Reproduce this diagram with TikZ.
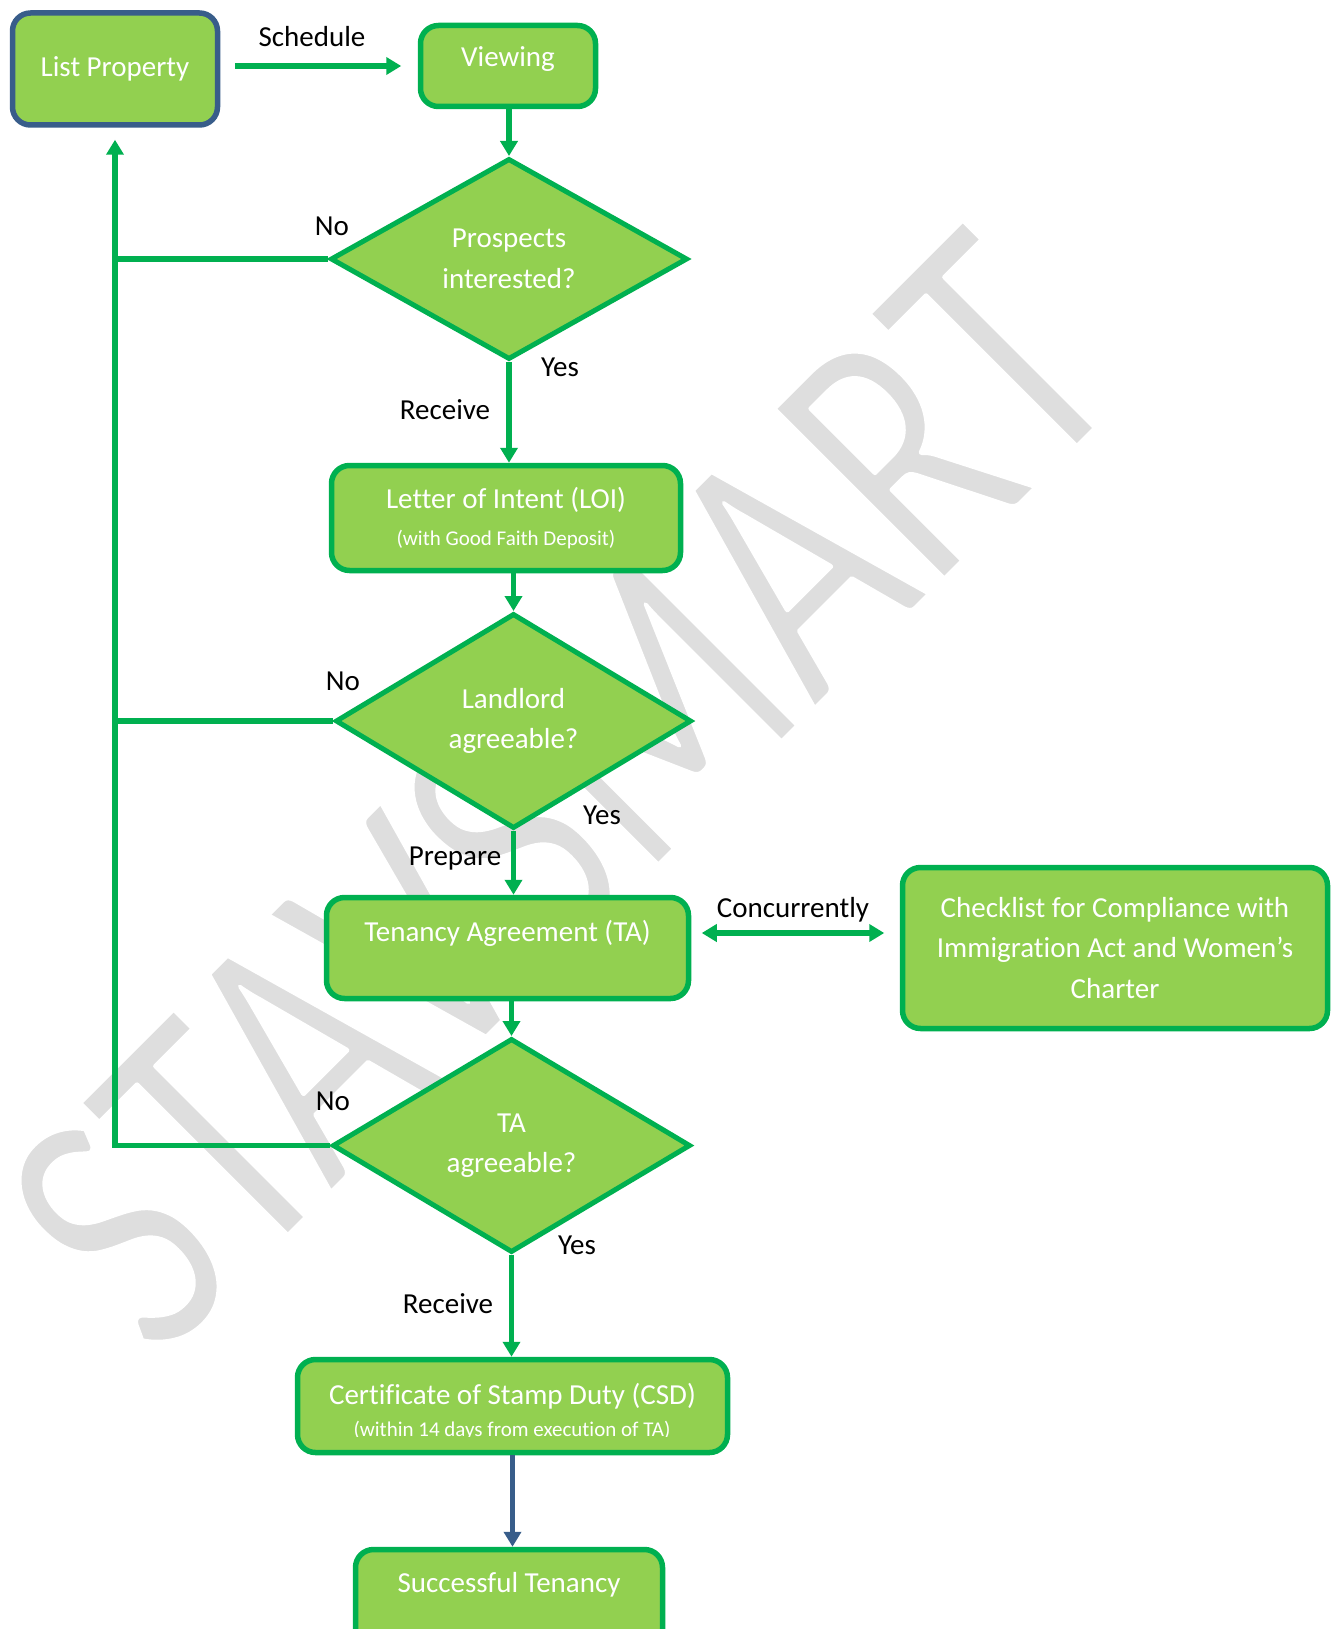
\documentclass[tikz,border=0pt]{standalone}
\usepackage{fontspec}
\usepackage{graphicx}
\setmainfont{Carlito}[Ligatures=NoCommon]
\usetikzlibrary{arrows.meta,shapes.geometric,calc}
\definecolor{gfill}{HTML}{92D050}
\definecolor{gline}{HTML}{00B050}
\definecolor{bline}{HTML}{385D8A}
\definecolor{wmgray}{HTML}{DEDEDE}
\newcommand{\mainfs}{\fontsize{29}{40.5}\selectfont}
\newcommand{\smallfs}{\fontsize{21}{26}\selectfont}
\newcommand{\wmfs}{\fontsize{376}{400}\selectfont}
\begin{document}
\begin{tikzpicture}[x=1pt,y=-1pt,
  box/.style={draw=gline, fill=gfill, line width=5.5pt, rounded corners=18pt, text=white, font=\mainfs, align=center, inner sep=0pt},
  dec/.style={diamond, draw=gline, fill=gfill, line width=5pt, text=white, font=\mainfs, align=center, inner sep=0pt},
  conn/.style={draw=gline, line width=5.5pt},
  arr/.style={conn, -{Triangle[length=15pt,width=17pt]}},
  dblarr/.style={conn, {Triangle[length=15pt,width=17pt]}-{Triangle[length=15pt,width=17pt]}},
  lbl/.style={font=\mainfs, text=black, anchor=base, inner sep=0pt},
]
\useasboundingbox (0,0) rectangle (1339,1629);
\clip (0,0) rectangle (1339,1629);
\fill[white] (0,0) rectangle (1339,1629);

% watermark
\node[rotate=45, inner sep=0pt, text=wmgray, font=\wmfs] (wm) at (561,792) {\special{pdf:literal direct 1 G 5 w 1 j 2 Tr}\scalebox{0.755}[1]{STAVSMART}\special{pdf:literal direct 0 Tr}};

% boxes
\node[box, draw=bline, minimum width=205pt, minimum height=112pt] (lp) at (115,69) {List Property};
\node[box, minimum width=175pt, minimum height=81pt, text height=20pt, text depth=18pt] (view) at (508,66) {Viewing};
\node[dec, minimum width=357pt, minimum height=201pt] (d1) at (509,259) {Prospects\\interested?};
\node[box, minimum width=349pt, minimum height=105pt, font=\fontsize{29}{37}\selectfont] (loi) at (506,518) {Letter of Intent (LOI)\\{\smallfs (with Good Faith Deposit)}};
\node[dec, minimum width=356pt, minimum height=215pt] (d2) at (513.5,721) {Landlord\\agreeable?};
\node[box, minimum width=362pt, minimum height=101pt, text height=20pt, text depth=34pt] (ta) at (507.5,948) {Tenancy Agreement (TA)};
\node[box, minimum width=425pt, minimum height=161pt] (chk) at (1115,948) {Checklist for Compliance with\\Immigration Act and Women’s\\Charter};
\node[dec, minimum width=358pt, minimum height=214pt] (d3) at (511.5,1145.5) {TA\\agreeable?};
\node[box, minimum width=430pt, minimum height=93pt, text height=20pt, text depth=24pt] (csd) at (512.5,1406) {Certificate of Stamp Duty (CSD)};
\begin{scope}
\clip (280,1300) rectangle (750,1436.5);
\node[font=\smallfs, text=white, anchor=base, inner sep=0pt] (csdsub) at (512,1436) {(within 14 days from execution of TA)};
\end{scope}
\node[box, minimum width=307pt, minimum height=101pt, text height=20pt, text depth=36pt] (succ) at (509,1600) {Successful Tenancy};

% connectors
\draw[arr, shorten <=14.5pt, shorten >=16.5pt] (lp.east |- view.west) -- (view.west);
\draw[arr] (d1.north |- view.south) -- (d1.north);
\draw[arr] (d1.south) -- (d1.south |- loi.north);
\draw[arr] (d2.north |- loi.south) -- (d2.north);
\draw[arr] (d2.south) -- (d2.south |- ta.north);
\draw[arr] (d3.north |- ta.south) -- (d3.north);
\draw[arr] (d3.south) -- (d3.south |- csd.north);
\draw[arr, draw=bline] (csd.south) -- (csd.south |- succ.north);
\coordinate (cc) at (0,933);
\draw[dblarr, shorten <=10.5pt, shorten >=15.5pt] (ta.east |- cc) -- (chk.west |- cc);
\draw[arr, shorten >=12pt] (d3.west) -| (lp.south);
\draw[conn] (d1.west) -- (d1.west -| lp.south);
\draw[conn] (d2.west) -- (d2.west -| lp.south);

% labels
\node[lbl] (lsched) at (312,47) {Schedule};
\node[lbl] (lno1) at (332,236) {No};
\node[lbl] (lyes1) at (560,376) {Yes};
\node[lbl] (lrec1) at (445,419) {Receive};
\node[lbl] (lno2) at (343,690) {No};
\node[lbl] (lyes2) at (602,824) {Yes};
\node[lbl] (lprep) at (455,865) {Prepare};
\node[lbl] (lconc) at (793,917) {Concurrently};
\node[lbl] (lno3) at (333,1110) {No};
\node[lbl] (lyes3) at (577,1254) {Yes};
\node[lbl] (lrec2) at (448,1313) {Receive};
\end{tikzpicture}
\end{document}
